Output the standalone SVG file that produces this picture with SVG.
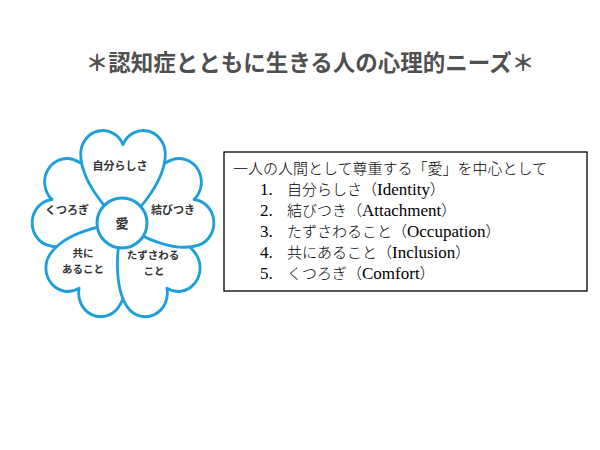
<svg xmlns="http://www.w3.org/2000/svg" xmlns:xlink="http://www.w3.org/1999/xlink" width="600" height="450" viewBox="0 0 600 450">
<style>
.petal{fill:#fff;stroke:#1E9FDB;stroke-width:3;stroke-linejoin:round}
.lbl{font-family:"Noto Sans CJK JP","Noto Sans",sans-serif;font-weight:bold;font-size:11px;fill:#333;text-anchor:middle}
.sm{font-size:10.5px}
.title{font-family:"Noto Sans CJK JP","Noto Sans",sans-serif;font-weight:bold;font-size:22.5px;fill:#505050;text-anchor:middle}
.box{font-family:"Liberation Serif","Noto Sans CJK JP",serif;font-size:15px;fill:#000}
.jp{font-family:"Noto Sans CJK JP",sans-serif;font-weight:300}
.en{font-size:17px}
</style>
<defs>
<path id="petal" class="petal" d="M0,0 C-20,-15 -45,-45 -45,-70 A23.5,23.5 0 0 1 0,-79.4 A23.5,23.5 0 0 1 45,-70 C45,-45 20,-15 0,0 Z"/>
</defs>
<rect width="600" height="450" fill="#fff"/>
<text class="title" x="310" y="71">＊認知症とともに生きる人の心理的ニーズ＊</text>
<g id="flower">
<g id="petal-kutsurogi"><use xlink:href="#petal" transform="translate(123,224) scale(0.94,1) rotate(-72)"/></g>
<g id="petal-tomoni"><use xlink:href="#petal" transform="translate(123,224) scale(0.94,1) rotate(-144)"/></g>
<g id="petal-tazusawaru"><use xlink:href="#petal" transform="translate(123,224) scale(0.94,1) rotate(144)"/></g>
<g id="petal-musubitsuki"><use xlink:href="#petal" transform="translate(123,224) scale(0.94,1) rotate(72)"/></g>
<g id="petal-jibunrashisa"><use xlink:href="#petal" transform="translate(123,224) scale(0.94,1)"/></g>
<g id="center-ai"><circle cx="122" cy="223" r="25" class="petal"/><text class="lbl" x="122" y="228" style="font-size:13px">愛</text></g>
<text class="lbl" x="120" y="170">自分らしさ</text>
<text class="lbl" x="173" y="214">結びつき</text>
<text class="lbl" x="67" y="214">くつろぎ</text>
<text class="lbl sm" x="83" y="257">共に<tspan x="83" dy="15.5">あること</tspan></text>
<text class="lbl sm" x="153" y="259">たずさわる<tspan x="154" dy="15.5">こと</tspan></text>
</g>
<g id="needs-box">
<rect x="224" y="152" width="363" height="139" fill="#fff" stroke="#000" stroke-width="1.3"/>
<text class="box jp" x="233" y="174">一人の人間として尊重する「愛」を中心として</text>
<text class="box" y="195"><tspan class="en" x="260">1.</tspan><tspan class="jp" x="287">自分らしさ（</tspan><tspan class="en">Identity</tspan><tspan class="jp">）</tspan></text>
<text class="box" y="216"><tspan class="en" x="260">2.</tspan><tspan class="jp" x="287">結びつき（</tspan><tspan class="en">Attachment</tspan><tspan class="jp">）</tspan></text>
<text class="box" y="237"><tspan class="en" x="260">3.</tspan><tspan class="jp" x="287">たずさわること（</tspan><tspan class="en">Occupation</tspan><tspan class="jp">）</tspan></text>
<text class="box" y="258"><tspan class="en" x="260">4.</tspan><tspan class="jp" x="287">共にあること（</tspan><tspan class="en">Inclusion</tspan><tspan class="jp">）</tspan></text>
<text class="box" y="279"><tspan class="en" x="260">5.</tspan><tspan class="jp" x="287">くつろぎ（</tspan><tspan class="en">Comfort</tspan><tspan class="jp">）</tspan></text>
</g>
</svg>
